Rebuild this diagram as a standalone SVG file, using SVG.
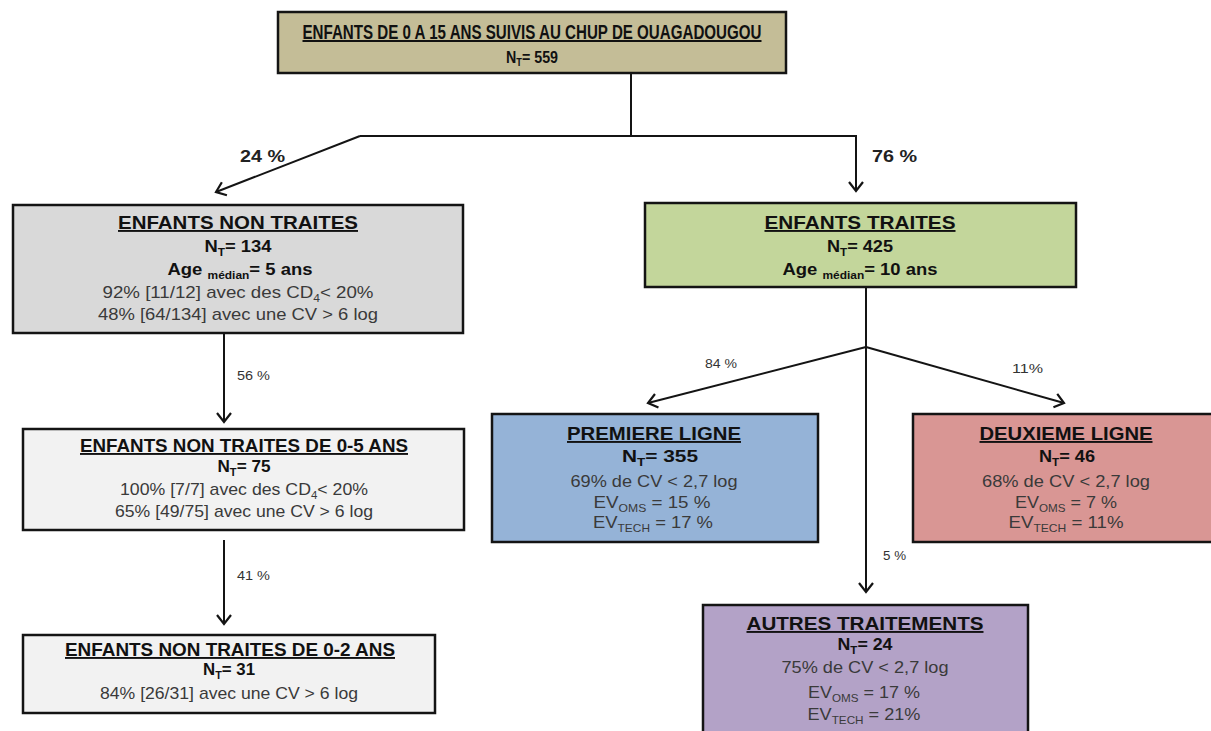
<svg xmlns="http://www.w3.org/2000/svg" width="1211" height="731" viewBox="0 0 1211 731">
<style>
.box{stroke:#141414;stroke-width:2.5}
.t{font-family:"Liberation Sans",Arial,sans-serif;text-anchor:middle;fill:#111}
.h{font-size:19px;font-weight:bold;text-decoration:underline}
.b{font-size:17px;font-weight:bold}
.r{font-size:17px;fill:#3a3a3a}
.sub{font-size:11px}
.lbl{font-family:"Liberation Sans",Arial,sans-serif;font-size:12px;fill:#333}
.lblb{font-family:"Liberation Sans",Arial,sans-serif;font-size:16px;font-weight:bold;fill:#222}
.c{fill:none;stroke:#141414;stroke-width:2}
</style>
<defs>
<marker id="ar" markerUnits="userSpaceOnUse" markerWidth="20" markerHeight="20" refX="0" refY="0" viewBox="-12 -10 14 20" orient="auto">
<path d="M-9,-7 L0,0 L-9,7" fill="none" stroke="#141414" stroke-width="2.2"/>
</marker>
</defs>
<rect width="1211" height="731" fill="#fff"/>

<g id="connectors">
<path class="c" d="M631,73 V136"/>
<path class="c" d="M360,136 H856 V191" marker-end="url(#ar)"/>
<path class="c" d="M360,136 L216,192" marker-end="url(#ar)"/>
<path class="c" d="M224,334 V422" marker-end="url(#ar)"/>
<path class="c" d="M224,540 V624" marker-end="url(#ar)"/>
<path class="c" d="M866,288 V592" marker-end="url(#ar)"/>
<path class="c" d="M866,347 L648,403" marker-end="url(#ar)"/>
<path class="c" d="M866,347 L1064,403" marker-end="url(#ar)"/>
<text class="lblb" x="240" y="162" textLength="45" lengthAdjust="spacingAndGlyphs">24 %</text>
<text class="lblb" x="872" y="162" textLength="45" lengthAdjust="spacingAndGlyphs">76 %</text>
<text class="lbl" x="237" y="380" textLength="33" lengthAdjust="spacingAndGlyphs">56 %</text>
<text class="lbl" x="237" y="580" textLength="33" lengthAdjust="spacingAndGlyphs">41 %</text>
<text class="lbl" x="705" y="368" textLength="32" lengthAdjust="spacingAndGlyphs">84 %</text>
<text class="lbl" x="1012" y="373" textLength="31" lengthAdjust="spacingAndGlyphs">11%</text>
<text class="lbl" x="883" y="560" textLength="23" lengthAdjust="spacingAndGlyphs">5 %</text>
</g>

<g id="root">
<rect class="box" x="278" y="12" width="508" height="61" fill="#c4bd97"/>
<text class="t h" style="font-size:20px" x="532" y="39" textLength="459" lengthAdjust="spacingAndGlyphs">ENFANTS DE 0 A 15 ANS SUIVIS AU CHUP DE OUAGADOUGOU</text>
<text class="t b" x="532" y="63" textLength="52" lengthAdjust="spacingAndGlyphs">N<tspan class="sub" dy="3">T</tspan><tspan dy="-3">= 559</tspan></text>
</g>

<g id="non-traites">
<rect class="box" x="13" y="205" width="450" height="128" fill="#d9d9d9"/>
<text class="t h" x="238" y="229" textLength="240" lengthAdjust="spacingAndGlyphs">ENFANTS NON TRAITES</text>
<text class="t b" x="238" y="252" textLength="67" lengthAdjust="spacingAndGlyphs">N<tspan class="sub" dy="4">T</tspan><tspan dy="-4">= 134</tspan></text>
<text class="t b" x="240" y="275" textLength="145" lengthAdjust="spacingAndGlyphs">Age <tspan class="sub" dy="4">médian</tspan><tspan dy="-4">= 5 ans</tspan></text>
<text class="t r" x="238" y="298" textLength="271" lengthAdjust="spacingAndGlyphs">92% [11/12] avec des CD<tspan class="sub" dy="4">4</tspan><tspan dy="-4">&lt; 20%</tspan></text>
<text class="t r" x="238" y="320" textLength="280" lengthAdjust="spacingAndGlyphs">48% [64/134] avec une CV &gt; 6 log</text>
</g>

<g id="non-traites-0-5">
<rect class="box" x="23" y="429" width="441" height="101" fill="#f2f2f2"/>
<text class="t h" x="244" y="452" textLength="328" lengthAdjust="spacingAndGlyphs">ENFANTS NON TRAITES DE 0-5 ANS</text>
<text class="t b" x="244" y="472" textLength="53" lengthAdjust="spacingAndGlyphs">N<tspan class="sub" dy="4">T</tspan><tspan dy="-4">= 75</tspan></text>
<text class="t r" x="244" y="495" textLength="248" lengthAdjust="spacingAndGlyphs">100% [7/7] avec des CD<tspan class="sub" dy="4">4</tspan><tspan dy="-4">&lt; 20%</tspan></text>
<text class="t r" x="244" y="517" textLength="258" lengthAdjust="spacingAndGlyphs">65% [49/75] avec une CV &gt; 6 log</text>
</g>

<g id="non-traites-0-2">
<rect class="box" x="23" y="635" width="412" height="78" fill="#f2f2f2"/>
<text class="t h" x="230" y="656" textLength="330" lengthAdjust="spacingAndGlyphs">ENFANTS NON TRAITES DE 0-2 ANS</text>
<text class="t b" x="229" y="675" textLength="52" lengthAdjust="spacingAndGlyphs">N<tspan class="sub" dy="4">T</tspan><tspan dy="-4">= 31</tspan></text>
<text class="t r" x="229" y="699" textLength="258" lengthAdjust="spacingAndGlyphs">84% [26/31] avec une CV &gt; 6 log</text>
</g>

<g id="traites">
<rect class="box" x="645" y="203" width="431" height="84" fill="#c3d69b"/>
<text class="t h" x="860" y="229" textLength="191" lengthAdjust="spacingAndGlyphs">ENFANTS TRAITES</text>
<text class="t b" x="860" y="252" textLength="66" lengthAdjust="spacingAndGlyphs">N<tspan class="sub" dy="4">T</tspan><tspan dy="-4">= 425</tspan></text>
<text class="t b" x="860" y="275" textLength="155" lengthAdjust="spacingAndGlyphs">Age <tspan class="sub" dy="4">médian</tspan><tspan dy="-4">= 10 ans</tspan></text>
</g>

<g id="premiere-ligne">
<rect class="box" x="492" y="414" width="326" height="128" fill="#95b3d7"/>
<text class="t h" x="654" y="440" textLength="174" lengthAdjust="spacingAndGlyphs">PREMIERE LIGNE</text>
<text class="t b" x="660" y="462" textLength="76" lengthAdjust="spacingAndGlyphs">N<tspan class="sub" dy="4">T</tspan><tspan dy="-4">= 355</tspan></text>
<text class="t r" x="654" y="487" textLength="167" lengthAdjust="spacingAndGlyphs">69% de CV &lt; 2,7 log</text>
<text class="t r" x="652" y="508" textLength="117" lengthAdjust="spacingAndGlyphs">EV<tspan class="sub" dy="4">OMS</tspan><tspan dy="-4"> = 15 %</tspan></text>
<text class="t r" x="653" y="528" textLength="120" lengthAdjust="spacingAndGlyphs">EV<tspan class="sub" dy="4">TECH</tspan><tspan dy="-4"> = 17 %</tspan></text>
</g>

<g id="deuxieme-ligne">
<rect class="box" x="913" y="414" width="305" height="128" fill="#d99694"/>
<text class="t h" x="1066" y="440" textLength="173" lengthAdjust="spacingAndGlyphs">DEUXIEME LIGNE</text>
<text class="t b" x="1067" y="462" textLength="56" lengthAdjust="spacingAndGlyphs">N<tspan class="sub" dy="4">T</tspan><tspan dy="-4">= 46</tspan></text>
<text class="t r" x="1066" y="487" textLength="168" lengthAdjust="spacingAndGlyphs">68% de CV &lt; 2,7 log</text>
<text class="t r" x="1066" y="508" textLength="102" lengthAdjust="spacingAndGlyphs">EV<tspan class="sub" dy="4">OMS</tspan><tspan dy="-4"> = 7 %</tspan></text>
<text class="t r" x="1066" y="528" textLength="115" lengthAdjust="spacingAndGlyphs">EV<tspan class="sub" dy="4">TECH</tspan><tspan dy="-4"> = 11%</tspan></text>
</g>

<g id="autres-traitements">
<rect class="box" x="703" y="605" width="325" height="140" fill="#b3a2c7"/>
<text class="t h" x="865" y="630" textLength="237" lengthAdjust="spacingAndGlyphs">AUTRES TRAITEMENTS</text>
<text class="t b" x="865" y="650" textLength="55" lengthAdjust="spacingAndGlyphs">N<tspan class="sub" dy="4">T</tspan><tspan dy="-4">= 24</tspan></text>
<text class="t r" x="865" y="673" textLength="167" lengthAdjust="spacingAndGlyphs">75% de CV &lt; 2,7 log</text>
<text class="t r" x="864" y="698" textLength="112" lengthAdjust="spacingAndGlyphs">EV<tspan class="sub" dy="4">OMS</tspan><tspan dy="-4"> = 17 %</tspan></text>
<text class="t r" x="864" y="720" textLength="113" lengthAdjust="spacingAndGlyphs">EV<tspan class="sub" dy="4">TECH</tspan><tspan dy="-4"> = 21%</tspan></text>
</g>
</svg>
